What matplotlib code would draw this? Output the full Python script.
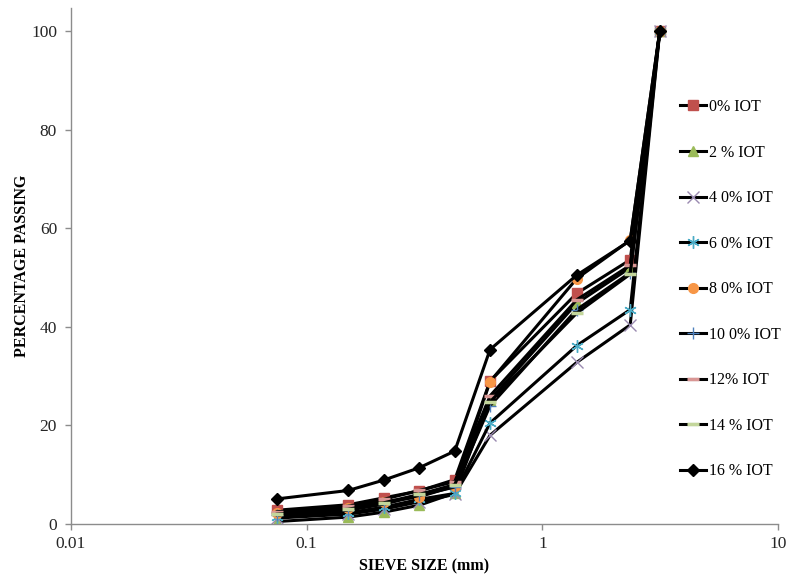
import numpy as np
import matplotlib.pyplot as plt
from matplotlib.ticker import FixedLocator, NullLocator

# sieve sizes (mm) and percent passing for each IOT replacement level
sieve = [0.075, 0.15, 0.212, 0.3, 0.425, 0.6, 1.4, 2.36, 3.15]

iot_0 = [2.8, 3.9, 5.3, 6.7, 9.0, 29.0, 46.8, 53.6, 100]
iot_2 = [0.5, 1.4, 2.4, 3.8, 6.3, 25.2, 44.8, 52.0, 100]
iot_4 = [1.2, 2.0, 3.0, 4.5, 6.0, 18.0, 32.8, 40.4, 100]
iot_6 = [1.5, 2.3, 3.4, 5.0, 6.2, 20.5, 36.2, 43.5, 100]
iot_8 = [2.2, 3.2, 4.5, 5.5, 7.7, 28.9, 49.8, 57.6, 100]
iot_10 = [1.8, 2.8, 4.0, 5.8, 7.5, 24.0, 43.5, 51.0, 100]
iot_12 = [2.5, 3.6, 5.0, 6.8, 8.6, 26.0, 45.5, 52.5, 100]
iot_14 = [2.0, 3.0, 4.3, 6.0, 8.0, 24.8, 42.8, 50.7, 100]
iot_16 = [5.1, 6.8, 8.9, 11.4, 14.8, 35.4, 50.5, 57.5, 100]

labels = ['0% IOT', '2 % IOT', '4 0% IOT', '6 0% IOT', '8 0% IOT',
          '10 0% IOT', '12% IOT', '14 % IOT', '16 % IOT']

plt.rcParams['font.family'] = ['Liberation Serif', 'DejaVu Serif']

fig = plt.figure(figsize=(7.97, 5.81), dpi=100)
ax = fig.add_axes([71 / 797, 57 / 581, (778 - 71) / 797, (524 - 8) / 581])

series = [iot_0, iot_2, iot_4, iot_6, iot_8, iot_10, iot_12, iot_14, iot_16]
styles = [
    dict(marker='s', mfc='#C0504D', mec='#C0504D', ms=7),
    dict(marker='^', mfc='#9BBB59', mec='#9BBB59', ms=7),
    dict(marker='x', mfc='#8064A2', mec='#9A8AB0', ms=8, mew=1.0),
    dict(marker=(6, 2, 0), mfc='#4BACC6', mec='#4BACC6', ms=9, mew=1.0),
    dict(marker='o', mfc='#F79646', mec='#F79646', ms=7),
    dict(marker='+', mfc='#4F81BD', mec='#4F81BD', ms=9, mew=1.0),
    dict(marker='_', mfc='#D99694', mec='#D99694', ms=8, mew=2.5),
    dict(marker='_', mfc='#C3D69B', mec='#C3D69B', ms=8, mew=2.5),
    dict(marker='D', mfc='black', mec='black', ms=6),
]

for vals, lab, st in zip(series, labels, styles):
    ax.plot(sieve, vals, color='black', lw=2.2, label=lab, **st)

ax.set_xscale('log')
ax.set_xlim(0.01, 10)
ax.set_ylim(0, 104.7)

ax.xaxis.set_major_locator(FixedLocator([0.01, 0.1, 1, 10]))
ax.xaxis.set_minor_locator(NullLocator())
ax.set_xticklabels(['0.01', '0.1', '1', '10'])
ax.set_yticks([0, 20, 40, 60, 80, 100])

for s in ['top', 'right']:
    ax.spines[s].set_visible(False)
for s in ['left', 'bottom']:
    ax.spines[s].set_color('#8C8C8C')
    ax.spines[s].set_linewidth(1.0)

ax.tick_params(axis='both', colors='#8C8C8C', labelcolor='#262626',
               labelsize=12.5, length=4, width=1.0, direction='out')
ax.tick_params(axis='x', pad=5)
ax.tick_params(axis='y', pad=6)

ax.set_xlabel('SIEVE SIZE (mm)', fontsize=11.5, fontweight='bold', labelpad=4)
ax.set_ylabel('PERCENTAGE PASSING', fontsize=11.5, fontweight='bold')
ax.yaxis.set_label_coords(-0.058, 0.5)

fig.legend(loc='upper left', bbox_to_anchor=(680 / 797, 1 - 99 / 581),
           bbox_transform=fig.transFigure, frameon=False, fontsize=11.5,
           labelspacing=1.85, handlelength=1.6, handletextpad=0.2,
           borderaxespad=0, borderpad=0)

fig.savefig('out.png', dpi=100)
